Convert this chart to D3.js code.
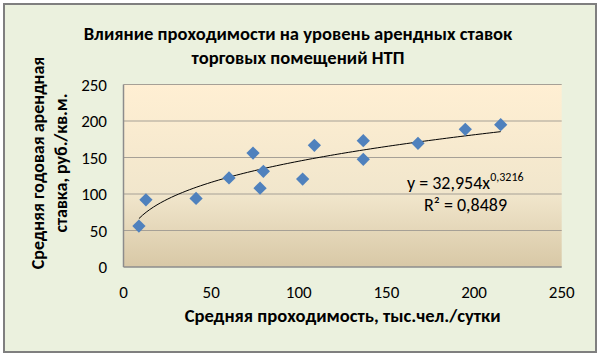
<!DOCTYPE html>
<html><head><meta charset="utf-8">
<script src="https://cdn.jsdelivr.net/npm/d3@7"></script>
<style>
body{margin:0;background:#fff;}
svg{display:block;font-family:Carlito,Lato,"Open Sans",sans-serif;}
</style></head>
<body><svg id="c" width="600" height="358"></svg>
<script>
const titleLines = ["Влияние проходимости на уровень арендных ставок", "торговых помещений НТП"];
const xTitle = "Средняя проходимость, тыс.чел./сутки";
const yTitleLines = ["Средняя годовая арендная", "ставка, руб./кв.м."];
const xTicks = [0, 50, 100, 150, 200, 250];
const yTicks = [0, 50, 100, 150, 200, 250];
const traffic = [8.8, 12.8, 41.4, 60.2, 73.9, 77.9, 79.8, 102.2, 108.9, 136.8, 136.8, 168, 195, 215.2];
const rent    = [56, 92, 94, 122, 156, 108, 131, 120.5, 166.7, 173, 147.5, 169.4, 188.6, 195];
const trendA = 32.954, trendB = 0.3216;
const eqText = ["y = 32,954x", "0,3216"];
const r2Text = "R² = 0,8489";

const svg = d3.select("#c");
const defs = svg.append("defs");
const g1 = defs.append("linearGradient").attr("id","pg").attr("x1",0).attr("y1",0).attr("x2",0).attr("y2",1);
g1.append("stop").attr("offset","0%").attr("stop-color","#FFEFD3");
g1.append("stop").attr("offset","60%").attr("stop-color","#F1E6CC");
g1.append("stop").attr("offset","100%").attr("stop-color","#D8C8A6");

// outer frame
svg.append("rect").attr("x",4).attr("y",4).attr("width",592).attr("height",348)
  .attr("fill","#EBF1DE").attr("stroke","#7F7F7F").attr("stroke-width",2);

const L=123.5, R=561.7, T=84.5, B=267;
const x = d3.scaleLinear().domain([0,250]).range([L,R]);
const y = d3.scaleLinear().domain([0,250]).range([B,T]);

svg.append("rect").attr("x",L).attr("y",T).attr("width",R-L).attr("height",B-T).attr("fill","url(#pg)");

// gridlines
svg.append("g").selectAll("line").data(yTicks.filter(d=>d>0)).join("line")
  .attr("x1",L).attr("x2",R).attr("y1",d=>y(d)).attr("y2",d=>y(d))
  .attr("stroke","#A6A096").attr("stroke-width",1.2);

// axes lines
svg.append("line").attr("x1",L).attr("x2",L).attr("y1",T).attr("y2",B).attr("stroke","#8C8C8C").attr("stroke-width",1.5);
svg.append("line").attr("x1",L).attr("x2",R).attr("y1",B).attr("y2",B).attr("stroke","#8C8C8C").attr("stroke-width",1.5);

// tick labels
svg.append("g").selectAll("text").data(yTicks).join("text")
  .attr("x",107).attr("y",d=>y(d)+6).attr("text-anchor","end")
  .attr("font-size",17).attr("fill","#000").text(d=>d);
svg.append("g").selectAll("text").data(xTicks).join("text")
  .attr("x",d=>x(d)).attr("y",297.5).attr("text-anchor","middle")
  .attr("font-size",17).attr("fill","#000").text(d=>d);

// trendline
const xmin = d3.min(traffic), xmax = d3.max(traffic);
const tp = d3.range(0,101).map(i=>{const xv = xmin + (xmax-xmin)*i/100; return [xv, trendA*Math.pow(xv,trendB)];});
svg.append("path").datum(tp).attr("fill","none").attr("stroke","#000").attr("stroke-width",1)
  .attr("d", d3.line().x(d=>x(d[0])).y(d=>y(d[1])));

// points
const sym = d3.symbol().type(d3.symbolSquare).size(88);
svg.append("g").selectAll("path").data(traffic.map((t,i)=>[t,rent[i]])).join("path")
  .attr("d",sym).attr("fill","#4F81BD")
  .attr("transform",d=>`translate(${x(d[0])},${y(d[1])}) rotate(45)`);

// equation
const eq = svg.append("text").attr("x",407).attr("y",189).attr("font-size",18).attr("fill","#000");
eq.append("tspan").text(eqText[0]);
eq.append("tspan").attr("font-size",12).attr("dy",-8).text(eqText[1]);
svg.append("text").attr("x",424).attr("y",211).attr("font-size",18).attr("fill","#000").text(r2Text);

// titles
svg.append("g").selectAll("text").data(titleLines).join("text")
  .attr("x",298).attr("y",(d,i)=>40+i*24).attr("text-anchor","middle")
  .attr("font-size",18.6).attr("font-weight","bold").attr("fill","#000").text(d=>d);

svg.append("text").attr("x",R/2+L/2).attr("y",322).attr("text-anchor","middle")
  .attr("font-size",18.6).attr("font-weight","bold").attr("fill","#000").text(xTitle);

svg.append("g").selectAll("text").data(yTitleLines).join("text")
  .attr("transform",(d,i)=>`translate(${44+i*23},163) rotate(-90)`).attr("text-anchor","middle")
  .attr("font-size",18).attr("font-weight","bold").attr("fill","#000").text(d=>d);
</script></body></html>
